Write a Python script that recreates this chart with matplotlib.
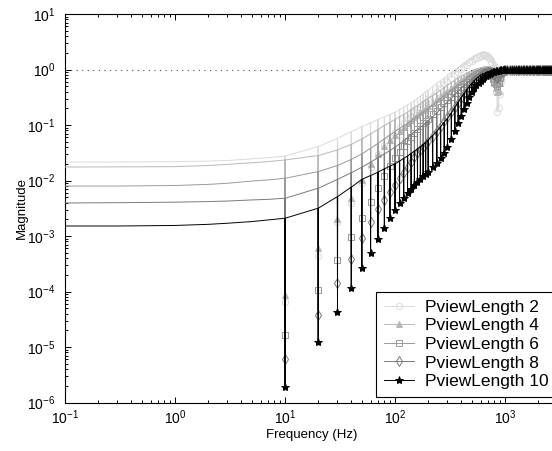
import matplotlib
matplotlib.use("Agg")
import matplotlib.pyplot as plt
from matplotlib.ticker import LogLocator, NullFormatter
import numpy as np

plt.rcParams['font.family'] = ['Liberation Sans', 'DejaVu Sans']
plt.rcParams['mathtext.fontset'] = 'custom'
plt.rcParams['mathtext.rm'] = 'Liberation Sans'
plt.rcParams['mathtext.it'] = 'Liberation Sans:italic'
plt.rcParams['mathtext.bf'] = 'Liberation Sans:bold'

labels = ["PviewLength 2", "PviewLength 4", "PviewLength 6", "PviewLength 8", "PviewLength 10"]

# magnitudes are stored as log10 values
low_freq = [0.1, 0.3, 1, 2, 3, 5, 7]
notch_freq = [10, 20, 30, 40, 50, 60, 70, 80, 90, 100, 110, 120, 130, 140, 150, 160, 170, 180, 190, 200,
              220, 240, 260, 280, 300, 325, 350, 375, 400, 425, 450, 475, 500, 525, 550, 575, 600,
              625, 650, 675, 700, 725, 750, 775, 800, 825, 850, 875, 900, 925, 950, 975, 1000]
tail_freq = [1050, 1100, 1150, 1200, 1250, 1300, 1350, 1400, 1450, 1500, 1550, 1600, 1650, 1700,
             1750, 1800, 1850, 1900, 1950, 2000, 2050, 2100, 2150, 2200, 2250, 2300, 2350, 2400,
             2450, 2500, 2550, 2600, 2650, 2700, 2750, 2800, 2850, 2900, 2950, 3000]
tail_lg = [0.0] * len(tail_freq)

low_2 = [-1.667, -1.665, -1.66, -1.65, -1.64, -1.61, -1.59]
top_2 = [-1.56, -1.39, -1.24, -1.12, -1.03, -0.96, -0.90, -0.85, -0.81, -0.77,
         -0.72, -0.68, -0.64, -0.60, -0.56, -0.52, -0.48, -0.44, -0.40, -0.37,
         -0.31, -0.25, -0.20, -0.15, -0.10, -0.05, -0.01, 0.04, 0.08, 0.12, 0.15, 0.19, 0.22,
         0.25, 0.27, 0.29, 0.31, 0.32, 0.32, 0.31, 0.30, 0.28, 0.25, 0.21, 0.17, 0.12, 0.08,
         0.05, 0.02, 0.01, 0.0, 0.0, 0.0]
bot_2 = [-4.19, -3.36, -2.74, -2.40, -2.05, -1.75, -1.52, -1.36, -1.22, -1.12,
         -1.03, -0.96, -0.89, -0.83, -0.77, -0.72, -0.67, -0.62, -0.58, -0.54,
         -0.47, -0.40, -0.33, -0.27, -0.21, -0.15, -0.09, -0.04, 0.01, 0.05, 0.09, 0.13, 0.16,
         0.19, 0.21, 0.23, 0.25, 0.26, 0.26, 0.25, 0.23, 0.19, 0.13, 0.03, -0.12, -0.40, -0.77,
         -0.70, -0.45, -0.20, -0.06, -0.02, 0.0]

low_4 = [-1.757, -1.755, -1.75, -1.73, -1.71, -1.68, -1.66]
top_4 = [-1.63, -1.55, -1.45, -1.35, -1.25, -1.16, -1.08, -1.01, -0.95, -0.90,
         -0.85, -0.81, -0.77, -0.72, -0.68, -0.65, -0.61, -0.58, -0.55, -0.52,
         -0.47, -0.42, -0.37, -0.32, -0.28, -0.24, -0.19, -0.15, -0.12, -0.09, -0.06, -0.04, -0.02,
         0.0, 0.01, 0.02, 0.03, 0.04, 0.05, 0.05, 0.05, 0.05, 0.04, 0.03, 0.02, 0.0, -0.02,
         -0.03, -0.02, -0.01, 0.0, 0.0, 0.0]
bot_4 = [-4.06, -3.21, -2.70, -2.31, -1.99, -1.70, -1.52, -1.38, -1.27, -1.18,
         -1.10, -1.03, -0.97, -0.91, -0.86, -0.82, -0.77, -0.73, -0.70, -0.66,
         -0.60, -0.54, -0.48, -0.43, -0.38, -0.33, -0.28, -0.23, -0.19, -0.15, -0.12, -0.09, -0.07,
         -0.05, -0.03, -0.02, -0.01, 0.0, 0.0, -0.01, -0.03, -0.06, -0.10, -0.16, -0.24, -0.33, -0.40,
         -0.38, -0.25, -0.12, -0.05, -0.02, 0.0]

low_6 = [-2.10, -2.10, -2.09, -2.07, -2.05, -2.01, -1.99]
top_6 = [-1.96, -1.84, -1.73, -1.62, -1.52, -1.42, -1.33, -1.25, -1.18, -1.12,
         -1.06, -1.01, -0.97, -0.92, -0.88, -0.84, -0.80, -0.76, -0.73, -0.70,
         -0.64, -0.58, -0.52, -0.47, -0.42, -0.37, -0.32, -0.27, -0.22, -0.19, -0.15, -0.11, -0.08,
         -0.06, -0.04, -0.02, 0.0, 0.01, 0.02, 0.03, 0.03, 0.03, 0.03, 0.02, 0.01, 0.0, -0.02,
         -0.03, -0.01, 0.0, 0.0, 0.0, 0.0]
bot_6 = [-4.78, -3.97, -3.43, -3.02, -2.68, -2.38, -2.13, -1.92, -1.74, -1.60,
         -1.48, -1.38, -1.29, -1.21, -1.14, -1.08, -1.02, -0.97, -0.93, -0.89,
         -0.81, -0.74, -0.67, -0.61, -0.55, -0.49, -0.43, -0.37, -0.32, -0.27, -0.22, -0.18, -0.14,
         -0.11, -0.08, -0.06, -0.04, -0.03, -0.02, -0.03, -0.05, -0.08, -0.12, -0.17, -0.22, -0.27, -0.30,
         -0.25, -0.15, -0.08, -0.04, -0.01, 0.0]

low_8 = [-2.405, -2.40, -2.39, -2.38, -2.37, -2.35, -2.34]
top_8 = [-2.32, -2.14, -1.98, -1.86, -1.76, -1.67, -1.59, -1.52, -1.46, -1.40,
         -1.34, -1.28, -1.23, -1.17, -1.12, -1.08, -1.04, -1.00, -0.96, -0.92,
         -0.85, -0.78, -0.71, -0.65, -0.58, -0.52, -0.45, -0.39, -0.33, -0.28, -0.24, -0.20, -0.16,
         -0.13, -0.10, -0.08, -0.06, -0.04, -0.03, -0.01, 0.0, 0.01, 0.01, 0.01, 0.01, -0.01, -0.03,
         -0.03, -0.01, 0.0, 0.0, 0.0, 0.0]
bot_8 = [-5.22, -4.42, -3.85, -3.41, -3.04, -2.75, -2.52, -2.35, -2.21, -2.08,
         -1.96, -1.85, -1.75, -1.66, -1.58, -1.51, -1.45, -1.39, -1.34, -1.29,
         -1.19, -1.10, -1.01, -0.93, -0.86, -0.77, -0.68, -0.60, -0.52, -0.45, -0.39, -0.33, -0.28,
         -0.23, -0.19, -0.15, -0.12, -0.09, -0.07, -0.06, -0.05, -0.05, -0.06, -0.08, -0.10, -0.13, -0.15,
         -0.12, -0.07, -0.04, -0.02, -0.01, 0.0]

low_10 = [-2.82, -2.82, -2.81, -2.79, -2.77, -2.74, -2.71]
top_10 = [-2.68, -2.50, -2.29, -2.12, -1.98, -1.91, -1.85, -1.79, -1.74, -1.70,
          -1.65, -1.60, -1.56, -1.51, -1.47, -1.43, -1.39, -1.35, -1.31, -1.27,
          -1.19, -1.11, -1.03, -0.95, -0.88, -0.78, -0.68, -0.59, -0.50, -0.43, -0.36, -0.30, -0.25,
          -0.20, -0.16, -0.13, -0.10, -0.08, -0.07, -0.05, -0.04, -0.03, -0.03, -0.02, -0.02, -0.01, -0.01,
          0.0, 0.0, 0.01, 0.01, 0.01, 0.0]
bot_10 = [-5.72, -4.91, -4.37, -3.94, -3.58, -3.30, -3.05, -2.85, -2.68, -2.53,
          -2.41, -2.31, -2.23, -2.16, -2.09, -2.03, -1.97, -1.92, -1.88, -1.84,
          -1.76, -1.68, -1.59, -1.50, -1.40, -1.26, -1.11, -0.97, -0.84, -0.72, -0.60, -0.49, -0.40,
          -0.34, -0.28, -0.24, -0.20, -0.17, -0.14, -0.12, -0.10, -0.08, -0.07, -0.05, -0.04, -0.03, -0.02,
          -0.02, -0.01, -0.01, 0.0, 0.0, 0.0]

series = [(low_2, top_2, bot_2), (low_4, top_4, bot_4), (low_6, top_6, bot_6),
          (low_8, top_8, bot_8), (low_10, top_10, bot_10)]
colors = ['0.86', '0.72', '0.6', '0.48', '0.0']
markers = ['o', '^', 's', 'd', '*']
msizes = [4.5, 4.5, 4, 5, 6]
filled = [False, True, False, False, True]


def build(low, top, bot):
    f = list(low_freq)
    y = list(low)
    marks = []
    for fn, t, b in zip(notch_freq, top, bot):
        f += [fn / 1.003, fn, fn * 1.003]
        y += [t, b, t]
        marks.append(len(f) - 2)
    for ft, yt in zip(tail_freq, tail_lg):
        f.append(ft)
        y.append(yt)
        marks.append(len(f) - 1)
    return np.array(f), 10 ** np.array(y), marks


fig = plt.figure(figsize=(5.52, 4.51), dpi=100)
ax = fig.add_axes([65 / 552, 48.5 / 451, 492.5 / 552, 388.5 / 451])

for i, (low, top, bot) in enumerate(series):
    f, m, marks = build(low, top, bot)
    face = colors[i] if filled[i] else 'none'
    ax.plot(f, m, color=colors[i], lw=0.7, marker=markers[i], markersize=msizes[i],
            markevery=marks, markerfacecolor=face, markeredgecolor=colors[i],
            markeredgewidth=0.7, label=labels[i], zorder=2 + i)
    if i == 1:
        ax.axhline(1, color='0.3', lw=0.8, dashes=(1, 4), zorder=3.5)

ax.set_xscale('log')
ax.set_yscale('log')
ax.set_xlim(0.1, 3000)
ax.set_ylim(1e-6, 10)
for axis in (ax.xaxis, ax.yaxis):
    axis.set_major_locator(LogLocator(base=10, numticks=20))
    axis.set_minor_locator(LogLocator(base=10, subs=np.arange(2, 10), numticks=100))
    axis.set_minor_formatter(NullFormatter())
ax.tick_params(which='both', direction='in', top=True, right=True, labelsize=10, width=0.7)
ax.tick_params(which='major', length=4)
ax.tick_params(which='minor', length=2)
ax.tick_params(axis='x', which='major', pad=4)
ax.tick_params(axis='y', which='major', pad=7)
for s in ax.spines.values():
    s.set_linewidth(0.8)

ax.set_xlabel("Frequency (Hz)", fontsize=9.5, labelpad=2)
ax.set_ylabel("Magnitude", fontsize=9.5, labelpad=-1)

# legend box runs past the right edge of the picture, as in the original
leg = ax.legend(loc='lower right', bbox_to_anchor=(556 / 552, 54 / 451),
                bbox_transform=fig.transFigure, borderaxespad=0,
                fontsize=12.5, fancybox=False, edgecolor='black', framealpha=1,
                handlelength=1.75, handletextpad=0.6, labelspacing=0.2, borderpad=0.45)
leg.get_frame().set_linewidth(0.8)

plt.savefig("out.png", dpi=100)
